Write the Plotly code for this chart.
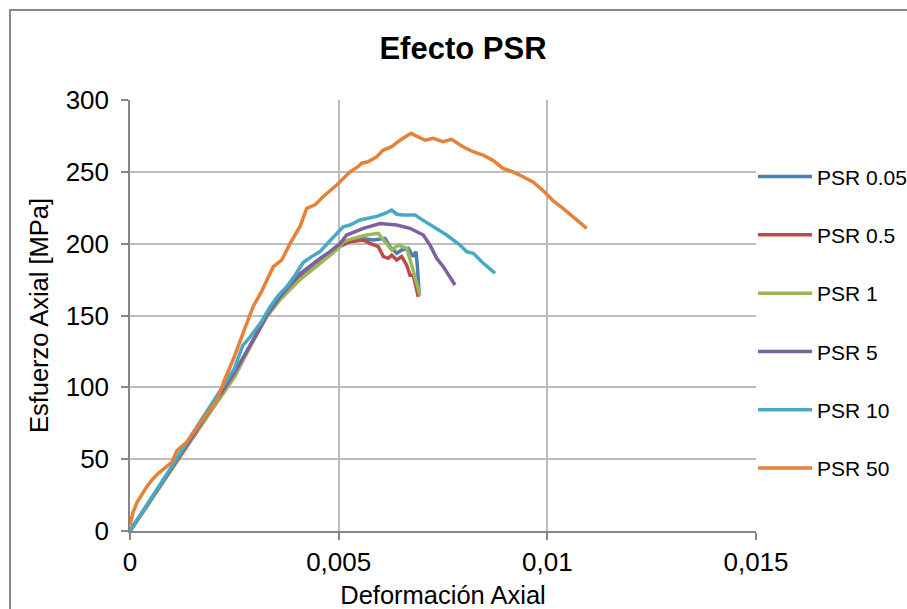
import plotly.graph_objects as go

# Axial stress-strain curves for each PSR level
psr_labels = ["PSR 0.05", "PSR 0.5", "PSR 1", "PSR 5", "PSR 10", "PSR 50"]
line_colors = ["#4A7EBB", "#BE4B48", "#98B954", "#7D60A0", "#46AAC5", "#E5823A"]

strain_psr005 = [0, 0.0005, 0.001, 0.0015, 0.002, 0.0025, 0.002875, 0.003276, 0.003594, 0.004074,
                 0.004553, 0.004792, 0.005032, 0.005272, 0.005511, 0.00583, 0.00611, 0.00623, 0.006391,
                 0.00651, 0.006669, 0.006789, 0.006853, 0.006884, 0.006908, 0.006932]
stress_psr005 = [0, 21.8, 43.8, 65.8, 87.5, 108.5, 128.5, 149.5, 162, 176,
                 187, 193, 198.5, 202, 203.7, 202.5, 203.7, 197.9, 193.3,
                 195.6, 196.8, 191, 194.4, 185, 173.5, 164]

strain_psr05 = [0, 0.0005, 0.001, 0.0015, 0.002, 0.0025, 0.002875, 0.003276, 0.003594, 0.004074,
                0.004553, 0.004792, 0.005032, 0.005272, 0.00559, 0.005751, 0.00595, 0.00607, 0.006189,
                0.006271, 0.006391, 0.00651, 0.00663, 0.006709, 0.006789, 0.006908]
stress_psr05 = [0, 21.5, 43.5, 65.5, 87, 108, 128.5, 149.5, 161.5, 175.5,
                186.5, 192.5, 198, 201.4, 202.5, 200.2, 197.9, 191, 189.8,
                192, 188.6, 191, 185, 178, 178, 163]

strain_psr1 = [0, 0.0005, 0.001, 0.0015, 0.002, 0.0025, 0.002875, 0.003115, 0.003276, 0.003594,
               0.004074, 0.004553, 0.004792, 0.005032, 0.005111, 0.005351, 0.005672, 0.00595, 0.006271,
               0.006429, 0.00663, 0.00675, 0.006949]
stress_psr1 = [0, 21, 43, 65, 86, 107, 128, 142, 149, 161,
               175, 186, 192, 198, 201.4, 203.7, 206, 207.2, 195.6,
               199, 196.8, 185, 164]

strain_psr5 = [0, 0.0005, 0.001, 0.0015, 0.002, 0.0025, 0.002875, 0.003276, 0.003594, 0.004074,
               0.004553, 0.004792, 0.005032, 0.005192, 0.00559, 0.005991, 0.006391, 0.006709, 0.007028,
               0.007189, 0.007349, 0.007507, 0.007788]
stress_psr5 = [0, 22, 44, 66, 88, 110, 129, 150, 163, 179,
               189.8, 194.4, 200, 206, 210.7, 214, 213, 210.7, 206,
               199, 189.8, 184, 171.2]

strain_psr10 = [0, 0.0005, 0.001, 0.0015, 0.002, 0.0025, 0.0027, 0.002875, 0.003156, 0.003355,
                0.003555, 0.003755, 0.003954, 0.004153, 0.004353, 0.004553, 0.004792, 0.005111, 0.005272,
                0.005511, 0.005911, 0.00611, 0.006271, 0.006391, 0.00655, 0.006829, 0.006949, 0.007148,
                0.007349, 0.007588, 0.007907, 0.008068, 0.008226, 0.008427, 0.008746]
stress_psr10 = [0, 22, 45, 68, 90, 113, 129, 135, 146, 156,
                164, 170, 178, 187, 191, 194.5, 202, 211.8, 213,
                216.5, 219, 221, 223.4, 220.5, 220, 220, 217.6, 214,
                211, 206, 199, 194.4, 193.3, 187.4, 179.4]

strain_psr50 = [0, 0.000072, 0.000168, 0.000288, 0.000407, 0.000527, 0.000671, 0.000839, 0.001006,
                0.001126, 0.001366, 0.001605, 0.001845, 0.002085, 0.002276, 0.002468, 0.002708, 0.002947,
                0.003156, 0.003434, 0.003635, 0.003834, 0.004074, 0.004234, 0.004433, 0.004625, 0.004953,
                0.005272, 0.005463, 0.005552, 0.005703, 0.005912, 0.006062, 0.006271, 0.00647, 0.006733,
                0.007069, 0.007261, 0.0075, 0.007709, 0.007979, 0.008219, 0.008459, 0.008698, 0.008938,
                0.009177, 0.009417, 0.009657, 0.009896, 0.010136, 0.010376, 0.010615, 0.010944]
stress_psr50 = [4, 13, 20, 26, 31, 35.5, 40, 44, 48,
                56, 62, 72, 82, 91, 106, 119, 137.6, 156,
                167, 184, 188.6, 200, 212, 224.6, 227, 232.7, 240.8,
                250, 253.6, 256, 257, 260.5, 265, 267.5, 272, 276.8,
                272, 273.3, 271, 272.6, 267.5, 264, 261.7, 258, 252.4,
                250, 246.6, 243, 237, 230, 224.6, 218.7, 210.7]

strains = [strain_psr005, strain_psr05, strain_psr1, strain_psr5, strain_psr10, strain_psr50]
stresses = [stress_psr005, stress_psr05, stress_psr1, stress_psr5, stress_psr10, stress_psr50]

x_tickvals = [0, 0.005, 0.01, 0.015]
x_ticktext = ["0", "0,005", "0,01", "0,015"]
y_tickvals = [0, 50, 100, 150, 200, 250, 300]

FONT = "Liberation Sans, Arial, sans-serif"

fig = go.Figure()
for i, name in enumerate(psr_labels):
    fig.add_trace(go.Scatter(
        x=strains[i], y=stresses[i], mode="lines", name=name,
        legendgroup=name,
        line=dict(color=line_colors[i], width=3.5),
    ))

axis_common = dict(
    showline=True, linecolor="#868686", linewidth=1.5,
    showgrid=True, gridcolor="#BDBDBD", gridwidth=1.5,
    ticks="outside", ticklen=7, tickcolor="#868686", tickwidth=1.5,
    tickfont=dict(family=FONT, size=26, color="#000000"),
    zeroline=False, automargin=True,
)

fig.update_layout(
    width=907, height=609,
    margin=dict(l=130, r=151, t=100, b=78, autoexpand=False),
    paper_bgcolor="white", plot_bgcolor="white",
    font=dict(family=FONT, color="#000000"),
    title=dict(text="<b>Efecto PSR</b>", font=dict(family=FONT, size=31, color="#000000"),
               x=463 / 907, xref="container", xanchor="center",
               y=1 - 48 / 609, yref="container", yanchor="middle"),
    xaxis=dict(range=[0, 0.015], tickvals=x_tickvals, ticktext=x_ticktext,
               title=dict(text="Deformación Axial", font=dict(family=FONT, size=25.5), standoff=12),
               ticklabelstandoff=0, **axis_common),
    yaxis=dict(range=[0, 300], tickvals=y_tickvals,
               title=dict(text="Esfuerzo Axial [MPa]", font=dict(family=FONT, size=25.5), standoff=10),
               ticklabelstandoff=7, **axis_common),
    legend=dict(x=0.9952, xanchor="left", y=0.484, yanchor="middle",
                font=dict(family=FONT, size=21, color="#000000"),
                bgcolor="rgba(0,0,0,0)", borderwidth=0,
                itemwidth=54, tracegroupgap=28, traceorder="grouped"),
    shapes=[dict(type="rect", xref="paper", yref="paper",
                 x0=-0.1917, x1=1.262, y0=-0.2065, y1=1.2088,
                 line=dict(color="#868686", width=2), layer="below")],
)

fig.write_html("out.html")
